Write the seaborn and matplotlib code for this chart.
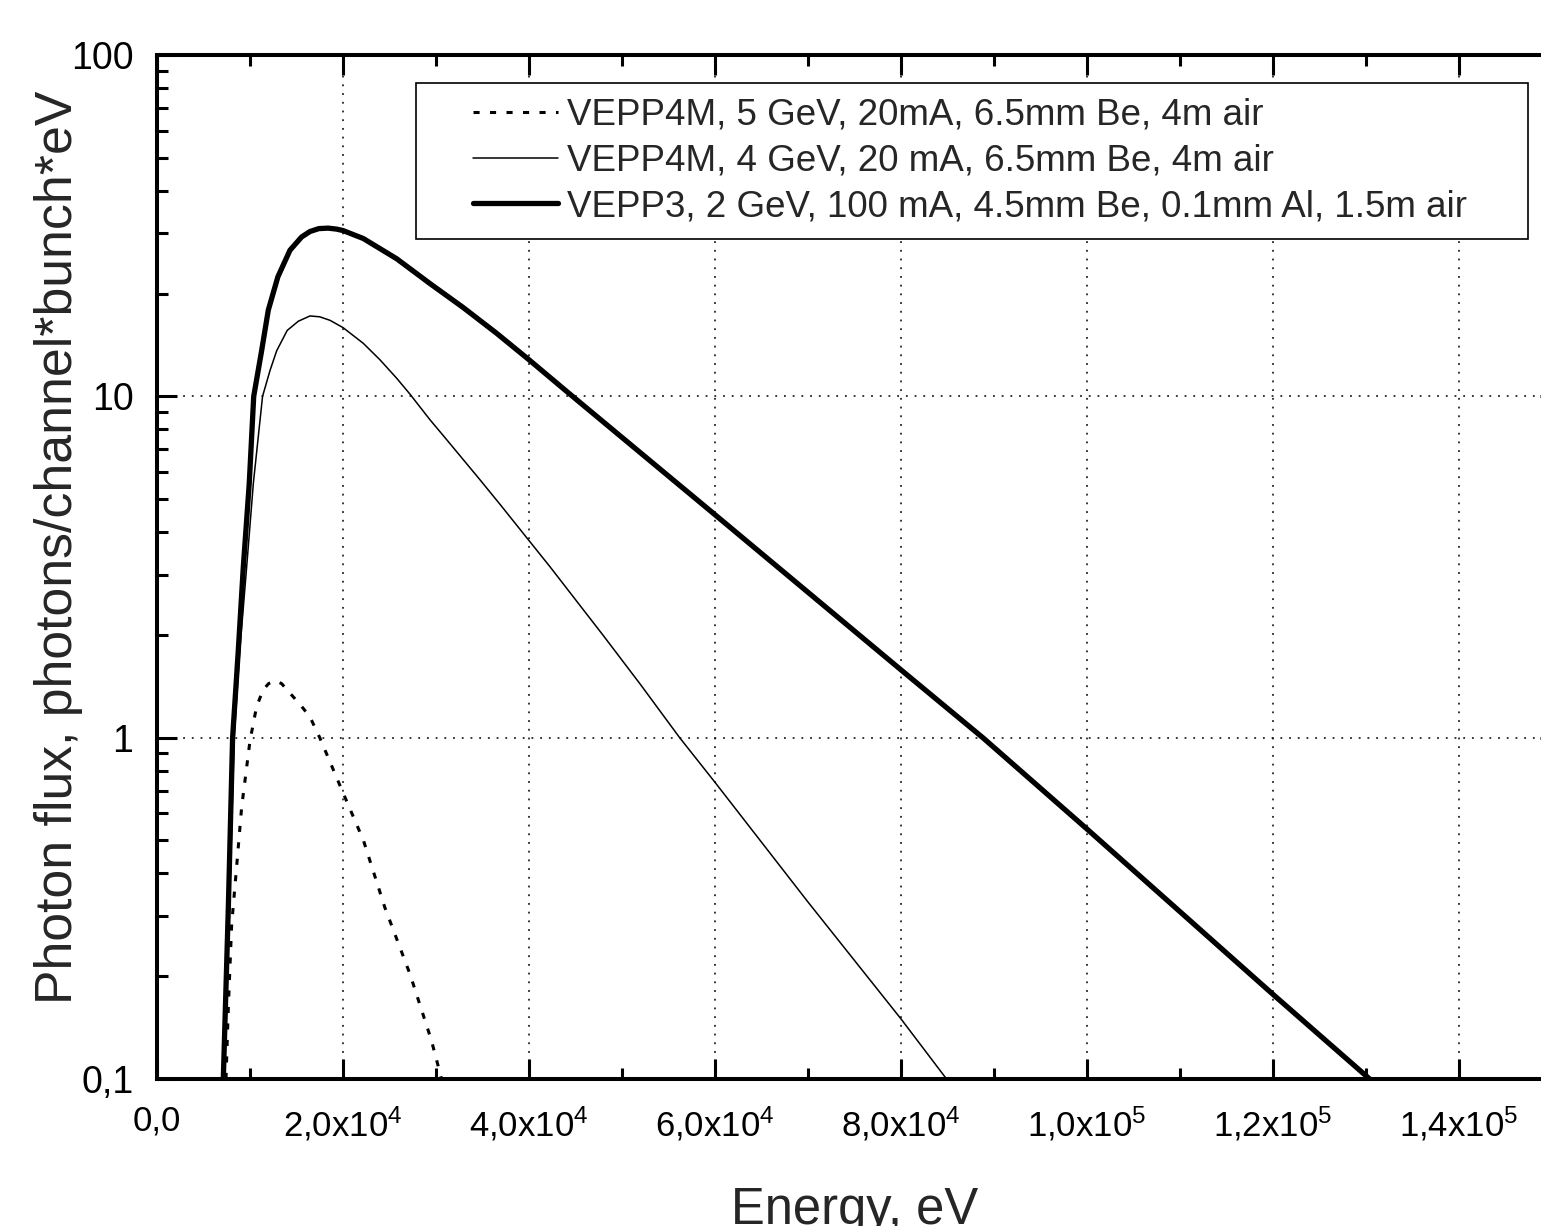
import numpy as np
import pandas as pd
import matplotlib
matplotlib.use("Agg")
import matplotlib.pyplot as plt
import seaborn as sns
from matplotlib import font_manager
from matplotlib.legend_handler import HandlerLine2D
from matplotlib.ticker import MultipleLocator, FixedLocator, FixedFormatter, LogLocator, NullFormatter, FuncFormatter

# ---------------- data ----------------
series_labels = [
    "VEPP4M, 5 GeV, 20mA, 6.5mm Be, 4m air",
    "VEPP4M, 4 GeV, 20 mA, 6.5mm Be, 4m air",
    "VEPP3, 2 GeV, 100 mA, 4.5mm Be, 0.1mm Al, 1.5m air",
]

e_vepp4m_5 = [7420, 7670, 8030, 8500, 9100, 10000, 10700, 11400, 12000, 12700,
              13400, 14300, 15400, 16450, 17500, 20000, 22200, 24500, 27200,
              29500, 30600]
f_vepp4m_5 = [0.1, 0.162, 0.284, 0.40, 0.625, 0.98, 1.23, 1.38, 1.44, 1.47,
              1.44, 1.35, 1.25, 1.15, 1.0, 0.69, 0.50, 0.318, 0.203,
              0.13, 0.1]

e_vepp4m_4 = [7250, 7800, 8300, 8900, 9640, 10360, 11350, 12150, 12870, 14000,
              15200, 16450, 17500, 18600, 20000, 22180, 23970, 25770, 27200,
              29350, 31140, 34720, 36900, 40000, 42250, 48000, 52000, 56200,
              60000, 70000, 80000, 84900]
f_vepp4m_4 = [0.1, 0.32, 1.0, 1.8, 3.16, 5.56, 10, 11.9, 13.6, 15.6,
              16.6, 17.2, 17.1, 16.7, 15.9, 14.3, 12.8, 11.3, 10.15,
              8.54, 7.47, 5.70, 4.82, 3.78, 3.17, 1.99, 1.43, 1.0,
              0.74, 0.33, 0.15, 0.1]

e_vepp3 = [7130, 7670, 8130, 8740, 9280, 9920, 10400, 11250, 11970, 13000,
           14300, 15550, 16450, 17400, 18400, 19300, 20000, 22180, 25770,
           29350, 32930, 36520, 40000, 44400, 49060, 56220, 60000, 80000,
           88800, 100000, 120000, 130400]
f_vepp3 = [0.1, 0.318, 1.0, 1.8, 3.16, 5.56, 10, 13.6, 17.9, 22.4,
           26.8, 29.3, 30.4, 31.0, 31.1, 30.9, 30.6, 29.0, 25.3,
           21.4, 18.2, 15.3, 12.8, 10.15, 7.96, 5.48, 4.5, 1.58,
           1.0, 0.54, 0.177, 0.1]

y_ticks = [0.1, 1, 10, 100]
y_ticklabels = ["0,1", "1", "10", "100"]

# ---------------- style ----------------
sns.set_style("ticks")
plt.rcParams['font.family'] = ['Liberation Sans', 'DejaVu Sans']
installed = {f.name for f in font_manager.fontManager.ttflist}
narrow = "Liberation Sans Narrow" if "Liberation Sans Narrow" in installed else None
xtick_family = narrow if narrow else "Liberation Sans"
xtick_size = 27 if narrow else 25
plt.rcParams['mathtext.fontset'] = 'custom'
plt.rcParams['mathtext.rm'] = xtick_family
plt.rcParams['mathtext.it'] = xtick_family
plt.rcParams['mathtext.bf'] = xtick_family
plt.rcParams['mathtext.default'] = 'regular'

W, H = 1541, 1226
fig = plt.figure(figsize=(W / 100, H / 100), dpi=100)
fig.patch.set_facecolor("white")
ax_left, ax_right, ax_top, ax_bottom = 157, 1560, 55, 1079
ax = fig.add_axes([ax_left / W, 1 - ax_bottom / H, (ax_right - ax_left) / W, (ax_bottom - ax_top) / H])
ax.set_facecolor("white")

df1 = pd.DataFrame({"E": e_vepp4m_5, "F": f_vepp4m_5})
df2 = pd.DataFrame({"E": e_vepp4m_4, "F": f_vepp4m_4})
df3 = pd.DataFrame({"E": e_vepp3, "F": f_vepp3})

sns.lineplot(data=df1, x="E", y="F", ax=ax, color="black", linewidth=2.2,
             linestyle=(0, (2.0, 3.4)), estimator=None, errorbar=None, label=series_labels[0])
sns.lineplot(data=df2, x="E", y="F", ax=ax, color="black", linewidth=1.1,
             estimator=None, errorbar=None, label=series_labels[1])
sns.lineplot(data=df3, x="E", y="F", ax=ax, color="black", linewidth=3.8,
             estimator=None, errorbar=None, label=series_labels[2])
for ln in ax.get_lines()[:3]:
    ln.set_solid_joinstyle("round")
    ln.set_dash_capstyle("butt")

ax.set_yscale("log")
ax.set_ylim(0.1, 100)
ax.set_xlim(0, (ax_right - ax_left) * 107.53)

# x ticks
ax.xaxis.set_major_locator(MultipleLocator(20000))
ax.xaxis.set_minor_locator(MultipleLocator(10000))

def xfmt(v, pos):
    if abs(v) < 1e-9:
        return "0,0"
    if v < 0:
        return ""
    e = int(np.floor(np.log10(v) + 1e-9))
    m = v / 10 ** e
    return ("%.1f" % m).replace(".", ",") + "x10$^{%d}$" % e

ax.xaxis.set_major_formatter(FuncFormatter(xfmt))

# y ticks
ax.yaxis.set_major_locator(FixedLocator(y_ticks))
ax.yaxis.set_major_formatter(FixedFormatter(y_ticklabels))
ax.yaxis.set_minor_locator(LogLocator(base=10, subs=np.arange(2, 10)))
ax.yaxis.set_minor_formatter(NullFormatter())

ax.tick_params(which="both", direction="in", top=True, right=True, colors="black")
ax.tick_params(which="major", length=14.5, width=2.2)
ax.tick_params(which="minor", length=8, width=2.2)
ax.tick_params(axis="x", which="major", pad=18.5, labelsize=xtick_size, labelfontfamily=xtick_family)
ax.tick_params(axis="y", which="major", pad=17, labelsize=27)

for s in ax.spines.values():
    s.set_linewidth(2.9)
    s.set_color("black")

ax.grid(True, which="major", color="black", linestyle=(0, (1.2, 4.5)), linewidth=1.1)
ax.set_axisbelow(True)

# labels
ax.set_xlabel("Energy, eV", fontsize=36.5)
ax.xaxis.label.set_va("baseline")
ax.xaxis.set_label_coords((855 - ax_left) / (ax_right - ax_left), (ax_bottom - 1224) / (ax_bottom - ax_top))
ax.set_ylabel("Photon flux, photons/channel*bunch*eV", fontsize=37.3)
ax.yaxis.label.set_va("baseline")
ax.yaxis.set_label_coords((72 - ax_left) / (ax_right - ax_left), 1 - (547.5 - ax_top) / (ax_bottom - ax_top))

# legend
class ShiftedHandler(HandlerLine2D):
    def __init__(self, frac, **kw):
        super().__init__(**kw)
        self.frac = frac

    def create_artists(self, legend, orig_handle, xdescent, ydescent, width, height, fontsize, trans):
        s = width * self.frac
        return super().create_artists(legend, orig_handle, xdescent - s, ydescent, width - s, height, fontsize, trans)

handles = ax.get_lines()[:3]
hm = {h: ShiftedHandler(0.332) for h in handles}
leg_fs = 26.5
x0 = (416 - ax_left) / (ax_right - ax_left)
y0 = 1 - (83 - ax_top) / (ax_bottom - ax_top)
wleg = (1528 - 416) / (ax_right - ax_left)
leg = ax.legend(handles, series_labels, loc="upper left", bbox_to_anchor=(x0, 0.0, wleg, y0),
                mode="expand", borderaxespad=0, fontsize=leg_fs, frameon=True, fancybox=False,
                edgecolor="black", framealpha=1, handlelength=3.46, handletextpad=0.245,
                labelspacing=0.29, borderpad=0.40, handler_map=hm)
leg.get_frame().set_linewidth(1.2)

fig.savefig("out.png", dpi=100, facecolor="white")
